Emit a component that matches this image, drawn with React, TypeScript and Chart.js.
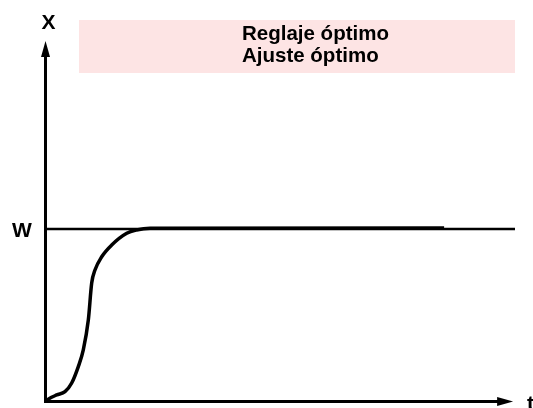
import React, { useEffect, useRef } from "react";
import { Chart, registerables } from "chart.js";

Chart.register(...registerables);

// Response curve (time units, response as fraction of W)
const responseT = [0, 0.6, 2.4, 4.15, 5.58, 6.99, 8.05, 9.12, 9.84, 10.54, 11.97, 14.1, 17.3, 19.4, 22.26, 84.9];
const responseX = [0, 0.014, 0.038, 0.057, 0.107, 0.202, 0.299, 0.472, 0.687, 0.762, 0.839, 0.907, 0.975, 0.994, 1.004, 1.006];

// Setpoint W line
const setpointT = [0, 100];
const setpointX = [1, 1];

// Axis extents
const xAxisEnd = 99.6;
const yAxisEnd = 2.09;

const titleLines = ["Reglaje óptimo", "Ajuste óptimo"];
const yAxisLabel = "X";
const xAxisLabel = "t";
const setpointLabel = "W";

const FONT = "'Liberation Sans', Arial, sans-serif";

const decorPlugin = {
  id: "decor",
  beforeDatasetsDraw(chart: any) {
    const ctx = chart.ctx;
    ctx.save();
    // pink title box
    ctx.fillStyle = "#fde4e4";
    ctx.fillRect(79, 20, 436, 53);
    ctx.fillStyle = "#000";
    ctx.font = `bold 20.5px ${FONT}`;
    ctx.textAlign = "left";
    ctx.textBaseline = "alphabetic";
    ctx.fillText(titleLines[0], 242, 40);
    ctx.fillText(titleLines[1], 242, 62);
    ctx.restore();
  },
  afterDatasetsDraw(chart: any) {
    const ctx = chart.ctx;
    const xs = chart.scales.x;
    const ys = chart.scales.y;
    const x0 = xs.getPixelForValue(0);
    const y0 = ys.getPixelForValue(0);
    const xEnd = xs.getPixelForValue(xAxisEnd);
    const yEnd = ys.getPixelForValue(yAxisEnd);
    ctx.save();
    ctx.strokeStyle = "#000";
    ctx.fillStyle = "#000";
    ctx.lineWidth = 3;
    ctx.lineCap = "butt";
    // y axis
    ctx.beginPath();
    ctx.moveTo(x0, y0 + 1.5);
    ctx.lineTo(x0, yEnd + 14);
    ctx.stroke();
    ctx.beginPath();
    ctx.moveTo(x0, yEnd);
    ctx.lineTo(x0 - 4.5, yEnd + 16);
    ctx.lineTo(x0 + 4.5, yEnd + 16);
    ctx.closePath();
    ctx.fill();
    // x axis
    ctx.beginPath();
    ctx.moveTo(x0 - 1.5, y0);
    ctx.lineTo(xEnd - 14, y0);
    ctx.stroke();
    ctx.beginPath();
    ctx.moveTo(xEnd, y0);
    ctx.lineTo(xEnd - 16, y0 - 4.5);
    ctx.lineTo(xEnd - 16, y0 + 4.5);
    ctx.closePath();
    ctx.fill();
    // labels
    ctx.font = `bold 21px ${FONT}`;
    ctx.textAlign = "center";
    ctx.textBaseline = "alphabetic";
    ctx.fillText(yAxisLabel, x0 + 3, 29);
    ctx.fillText(setpointLabel, 22, ys.getPixelForValue(1) + 7.5);
    ctx.textAlign = "left";
    ctx.fillText(xAxisLabel, xEnd + 14, y0 + 8);
    ctx.restore();
  },
};

export default function App() {
  const ref = useRef<HTMLCanvasElement | null>(null);
  useEffect(() => {
    if (!ref.current) return;
    const chart = new Chart(ref.current, {
      type: "scatter",
      data: {
        datasets: [
          {
            data: setpointT.map((t, i) => ({ x: t, y: setpointX[i] })),
            showLine: true,
            borderColor: "#000",
            borderWidth: 2.5,
            pointRadius: 0,
            clip: false,
          },
          {
            data: responseT.map((t, i) => ({ x: t, y: responseX[i] })),
            showLine: true,
            borderColor: "#000",
            borderWidth: 3.5,
            pointRadius: 0,
            cubicInterpolationMode: "monotone",
            clip: false,
          },
        ],
      },
      options: {
        animation: false,
        responsive: false,
        layout: { padding: { left: 45.5, right: 18, top: 56.5, bottom: 6.5 } },
        plugins: { legend: { display: false }, tooltip: { enabled: false }, title: { display: false } },
        scales: {
          x: { type: "linear", min: 0, max: 100, display: false },
          y: { type: "linear", min: 0, max: 2, display: false },
        },
      } as any,
      plugins: [decorPlugin],
    });
    return () => chart.destroy();
  }, []);
  return (
    <div style={{ position: "absolute", left: 0, top: 0, width: 533, height: 408, background: "#fff" }}>
      <canvas ref={ref} width={533} height={408} style={{ display: "block" }} />
    </div>
  );
}
